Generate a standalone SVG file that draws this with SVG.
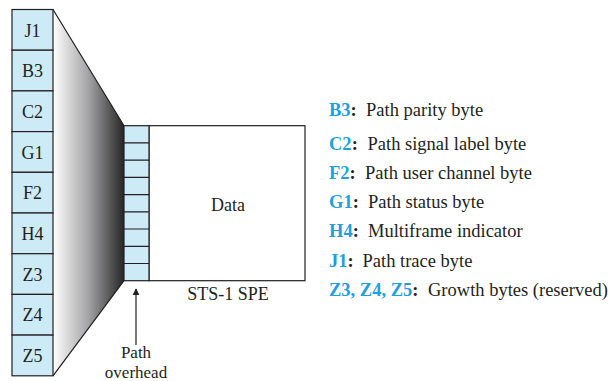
<svg xmlns="http://www.w3.org/2000/svg" width="610" height="381" viewBox="0 0 610 381">
<defs>
<linearGradient id="shade" x1="53" y1="0" x2="124" y2="0" gradientUnits="userSpaceOnUse">
<stop offset="0" stop-color="#ffffff"/>
<stop offset="0.5" stop-color="#a3a3a5"/>
<stop offset="1" stop-color="#262626"/>
</linearGradient>
<marker id="arr" viewBox="0 0 10 10" refX="9" refY="5" markerWidth="7" markerHeight="10" markerUnits="userSpaceOnUse" orient="auto">
<path d="M0,0 L10,5 L0,10 Z" fill="#231f20"/>
</marker>
<style>
.cell{fill:#cdeaf7;stroke:#231f20;stroke-width:1.2}
.box{fill:#ffffff;stroke:#231f20;stroke-width:1.2}
.ln{stroke:#231f20;stroke-width:1.2;fill:none}
.t{font-family:"Liberation Serif","Times New Roman",serif;font-size:18px;fill:#231f20}
.lg{font-size:18.5px}
.sm{font-size:17px}
.lab{text-anchor:middle}
.code{font-weight:bold;fill:#1ea0dc}
.colon{font-weight:bold;fill:#231f20}
</style>
</defs>

<g id="fan">
<path d="M53,9.5 L124,125.7 L124,280.7 L53,375.8 Z" fill="url(#shade)"/>
<path class="ln" d="M53,9.5 L124,125.7 M53,375.8 L124,280.7"/>
</g>

<g id="path-overhead-column">
<rect class="cell" x="12" y="9.5" width="41" height="40.7"/>
<rect class="cell" x="12" y="50.2" width="41" height="40.7"/>
<rect class="cell" x="12" y="90.9" width="41" height="40.7"/>
<rect class="cell" x="12" y="131.6" width="41" height="40.7"/>
<rect class="cell" x="12" y="172.3" width="41" height="40.7"/>
<rect class="cell" x="12" y="213" width="41" height="40.7"/>
<rect class="cell" x="12" y="253.7" width="41" height="40.7"/>
<rect class="cell" x="12" y="294.4" width="41" height="40.7"/>
<rect class="cell" x="12" y="335.1" width="41" height="40.7"/>
<text class="t lab" x="32.5" y="36.5">J1</text>
<text class="t lab" x="32.5" y="77.2">B3</text>
<text class="t lab" x="32.5" y="117.9">C2</text>
<text class="t lab" x="32.5" y="158.6">G1</text>
<text class="t lab" x="32.5" y="199.3">F2</text>
<text class="t lab" x="32.5" y="240">H4</text>
<text class="t lab" x="32.5" y="280.7">Z3</text>
<text class="t lab" x="32.5" y="321.4">Z4</text>
<text class="t lab" x="32.5" y="362.1">Z5</text>
</g>

<g id="sts1-spe">
<rect class="box" x="149" y="125.7" width="156" height="155"/>
<rect class="cell" x="124" y="125.7" width="25" height="155"/>
<path class="ln" d="M124,142.9 H149 M124,160.1 H149 M124,177.4 H149 M124,194.6 H149 M124,211.8 H149 M124,229 H149 M124,246.3 H149 M124,263.5 H149"/>
<text class="t lab" x="228" y="211">Data</text>
<text class="t lab" x="228" y="300">STS-1 SPE</text>
</g>

<g id="connectors">
<line class="ln" x1="136" y1="345" x2="136" y2="289" marker-end="url(#arr)"/>
</g>

<g id="path-overhead-label">
<text class="t sm lab" x="136" y="358">Path</text>
<text class="t sm lab" x="136" y="377.5">overhead</text>
</g>

<g id="legend">
<text class="t lg" x="329" y="116"><tspan class="code">B3</tspan><tspan class="colon">:</tspan><tspan x="366">Path parity byte</tspan></text>
<text class="t lg" x="329" y="150"><tspan class="code">C2</tspan><tspan class="colon">:</tspan><tspan x="367.5">Path signal label byte</tspan></text>
<text class="t lg" x="329" y="178.5"><tspan class="code">F2</tspan><tspan class="colon">:</tspan><tspan x="365">Path user channel byte</tspan></text>
<text class="t lg" x="329" y="208"><tspan class="code">G1</tspan><tspan class="colon">:</tspan><tspan x="368">Path status byte</tspan></text>
<text class="t lg" x="329" y="237"><tspan class="code">H4</tspan><tspan class="colon">:</tspan><tspan x="368">Multiframe indicator</tspan></text>
<text class="t lg" x="329" y="266.5"><tspan class="code">J1</tspan><tspan class="colon">:</tspan><tspan x="362.5">Path trace byte</tspan></text>
<text class="t lg" x="329" y="296"><tspan class="code">Z3, Z4, Z5</tspan><tspan class="colon">:</tspan><tspan x="428">Growth bytes (reserved)</tspan></text>
</g>
</svg>
